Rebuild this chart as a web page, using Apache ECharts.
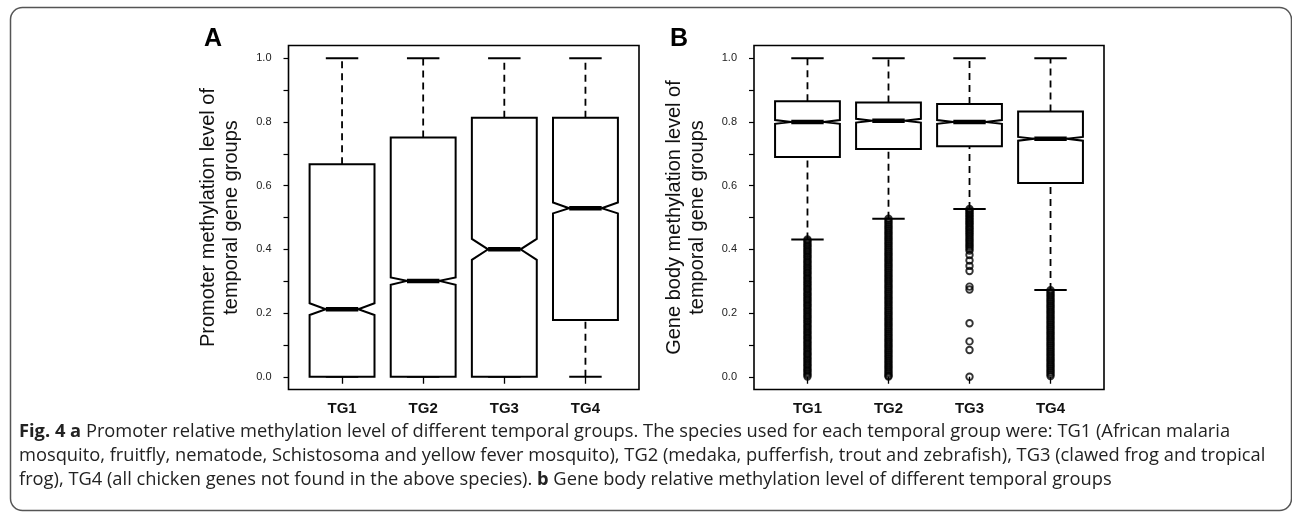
<!DOCTYPE html>
<html><head><meta charset="utf-8">
<script src="https://cdn.jsdelivr.net/npm/echarts@6/dist/echarts.min.js"></script>
<style>html,body{margin:0;padding:0;background:#fff}#c{width:1292px;height:516px}</style>
</head><body><div id="c"></div>
<script>
const categories = ['TG1', 'TG2', 'TG3', 'TG4'];
const yTickValues = [0, 0.1, 0.2, 0.3, 0.4, 0.5, 0.6, 0.7, 0.8, 0.9, 1.0];
const yLabelValues = [0, 0.2, 0.4, 0.6, 0.8, 1.0];

// Panel A: promoter methylation (notched boxplot stats)
const promoterWhiskerLow  = [0, 0, 0, 0];
const promoterQ1          = [0, 0, 0, 0.178];
const promoterNotchLow    = [0.194, 0.289, 0.367, 0.513];
const promoterMedian      = [0.212, 0.301, 0.400, 0.529];
const promoterNotchHigh   = [0.231, 0.312, 0.433, 0.547];
const promoterQ3          = [0.667, 0.751, 0.813, 0.813];
const promoterWhiskerHigh = [1.0, 1.0, 1.0, 1.0];

// Panel B: gene body methylation
const bodyWhiskerLow  = [0.431, 0.496, 0.527, 0.272];
const bodyQ1          = [0.690, 0.715, 0.724, 0.608];
const bodyNotchLow    = [0.794, 0.798, 0.794, 0.741];
const bodyMedian      = [0.800, 0.804, 0.800, 0.747];
const bodyNotchHigh   = [0.806, 0.810, 0.806, 0.753];
const bodyQ3          = [0.865, 0.861, 0.856, 0.833];
const bodyWhiskerHigh = [1.0, 1.0, 1.0, 1.0];

// Panel B outliers
const bodyOutliersTG1 = [0.431,0.426,0.420,0.414,0.409,0.403,0.397,0.392,0.386,0.380,0.375,0.369,0.363,0.358,0.352,0.346,0.341,0.335,0.329,0.324,0.318,0.312,0.307,0.301,0.295,0.290,0.284,0.278,0.273,0.267,0.261,0.256,0.250,0.244,0.239,0.233,0.227,0.222,0.216,0.210,0.205,0.199,0.193,0.188,0.182,0.176,0.171,0.165,0.159,0.154,0.148,0.142,0.137,0.131,0.125,0.120,0.114,0.108,0.103,0.097,0.091,0.086,0.080,0.074,0.069,0.063,0.057,0.052,0.046,0.040,0.035,0.029,0.023,0.018,0.012,0.006,0.001];
const bodyOutliersTG2 = [0.496,0.490,0.484,0.478,0.472,0.466,0.460,0.454,0.448,0.442,0.436,0.430,0.424,0.418,0.412,0.406,0.400,0.394,0.388,0.382,0.376,0.370,0.364,0.358,0.352,0.346,0.340,0.334,0.328,0.322,0.316,0.310,0.304,0.298,0.292,0.286,0.280,0.274,0.268,0.262,0.256,0.250,0.244,0.238,0.232,0.226,0.220,0.214,0.208,0.202,0.196,0.190,0.184,0.178,0.172,0.166,0.160,0.154,0.148,0.142,0.136,0.130,0.124,0.118,0.112,0.106,0.100,0.094,0.088,0.082,0.076,0.070,0.064,0.058,0.052,0.046,0.040,0.034,0.028,0.022,0.016,0.010,0.004,0.001];
const bodyOutliersTG3 = [0.527,0.522,0.517,0.512,0.507,0.502,0.497,0.492,0.487,0.482,0.477,0.471,0.466,0.461,0.455,0.450,0.444,0.438,0.432,0.426,0.420,0.414,0.408,0.402,0.396,0.382,0.365,0.348,0.332,0.283,0.274,0.168,0.111,0.084,0.000];
const bodyOutliersTG4 = [0.272,0.266,0.260,0.254,0.248,0.242,0.236,0.230,0.224,0.218,0.212,0.206,0.200,0.194,0.188,0.182,0.176,0.170,0.164,0.158,0.152,0.146,0.140,0.134,0.128,0.122,0.116,0.110,0.104,0.098,0.092,0.086,0.080,0.074,0.068,0.062,0.056,0.050,0.044,0.038,0.032,0.026,0.020,0.014,0.008,0.002];

const yTitleA = 'Promoter methylation level of\ntemporal gene groups';
const yTitleB = 'Gene body methylation level of\ntemporal gene groups';
const captionLines = [
  '{b|Fig. 4 a} Promoter relative methylation level of different temporal groups. The species used for each temporal group were: TG1 (African malaria',
  'mosquito, fruitfly, nematode, Schistosoma and yellow fever mosquito), TG2 (medaka, pufferfish, trout and zebrafish), TG3 (clawed frog and tropical',
  'frog), TG4 (all chicken genes not found in the above species). {b|b} Gene body relative methylation level of different temporal groups'
];

function boxRows(lo, q1, nl, md, nh, q3, hi) {
  return categories.map((c, i) => [i + 1, lo[i], q1[i], nl[i], md[i], nh[i], q3[i], hi[i]]);
}

function renderBox(params, api) {
  const x = api.value(0);
  const lo = api.value(1), q1 = api.value(2), nl = api.value(3), md = api.value(4),
        nh = api.value(5), q3 = api.value(6), hi = api.value(7);
  const P = (dx, y) => api.coord([x + dx, y]);
  const dashed = { stroke: '#000', lineWidth: 1.8, lineDash: [7, 5], fill: null };
  const solid = { stroke: '#000', lineWidth: 2, fill: null };
  const seg = (a, b, style) => ({ type: 'line', shape: { x1: a[0], y1: a[1], x2: b[0], y2: b[1] }, style: style });
  const ch = [];
  if (hi > q3) ch.push(seg(P(0, q3), P(0, hi), dashed));
  if (q1 > lo) ch.push(seg(P(0, lo), P(0, q1), dashed));
  ch.push(seg(P(-0.2, hi), P(0.2, hi), solid));
  ch.push(seg(P(-0.2, lo), P(0.2, lo), solid));
  const pts = [P(-0.4, q1), P(-0.4, nl), P(-0.2, md), P(-0.4, nh), P(-0.4, q3),
               P(0.4, q3), P(0.4, nh), P(0.2, md), P(0.4, nl), P(0.4, q1)];
  ch.push({ type: 'polygon', shape: { points: pts }, style: { fill: '#fff', stroke: '#000', lineWidth: 2, lineJoin: 'miter' } });
  ch.push(seg(P(-0.2, md), P(0.2, md), { stroke: '#000', lineWidth: 4.5 }));
  return { type: 'group', children: ch };
}

function makeXAxis(gi) {
  return {
    type: 'value', gridIndex: gi, min: 0.34, max: 4.66,
    axisLine: { show: false }, splitLine: { show: false },
    axisTick: { show: true, customValues: [1, 2, 3, 4], length: 7, lineStyle: { color: '#000', width: 1.3 } },
    axisLabel: { customValues: [1, 2, 3, 4], formatter: v => categories[Math.round(v) - 1],
      fontFamily: 'Liberation Sans, Arial, sans-serif', fontWeight: 'bold', fontSize: 15, color: '#111', margin: 12 }
  };
}
function makeYAxis(gi, name, gap) {
  return {
    type: 'value', gridIndex: gi, min: -0.04, max: 1.04,
    axisLine: { show: false }, splitLine: { show: false },
    axisTick: { show: true, customValues: yTickValues, length: 5, lineStyle: { color: '#000', width: 1.2 } },
    axisLabel: { customValues: yLabelValues, formatter: v => v.toFixed(1),
      fontFamily: 'Liberation Sans, Arial, sans-serif', fontSize: 11, color: '#222', margin: 17 },
    name: name, nameLocation: 'middle', nameRotate: 90, nameGap: gap,
    nameTextStyle: { fontFamily: 'Liberation Sans, Arial, sans-serif', fontSize: 20, lineHeight: 23, color: '#111', align: 'center' }
  };
}

const outlierStyle = { color: 'rgba(255,255,255,0)', borderColor: '#000', borderWidth: 1.9 };

const chart = echarts.init(document.getElementById('c'), null, { renderer: 'canvas' });
chart.setOption({
  animation: false,
  backgroundColor: '#fff',
  grid: [
    { left: 288.5, top: 45.5, width: 350.5, height: 344, show: true, borderColor: '#000', borderWidth: 1.6, backgroundColor: 'transparent' },
    { left: 754, top: 45.5, width: 350, height: 344, show: true, borderColor: '#000', borderWidth: 1.6, backgroundColor: 'transparent' }
  ],
  xAxis: [makeXAxis(0), makeXAxis(1)],
  yAxis: [makeYAxis(0, yTitleA, 46), makeYAxis(1, yTitleB, 45)],
  series: [
    { type: 'custom', xAxisIndex: 0, yAxisIndex: 0, renderItem: renderBox, clip: false,
      encode: { x: 0, y: [1, 2, 3, 4, 5, 6, 7] },
      data: boxRows(promoterWhiskerLow, promoterQ1, promoterNotchLow, promoterMedian, promoterNotchHigh, promoterQ3, promoterWhiskerHigh) },
    { type: 'custom', xAxisIndex: 1, yAxisIndex: 1, renderItem: renderBox, clip: false,
      encode: { x: 0, y: [1, 2, 3, 4, 5, 6, 7] },
      data: boxRows(bodyWhiskerLow, bodyQ1, bodyNotchLow, bodyMedian, bodyNotchHigh, bodyQ3, bodyWhiskerHigh) },
    { type: 'scatter', xAxisIndex: 1, yAxisIndex: 1, symbol: 'circle', symbolSize: 6.5, itemStyle: outlierStyle, z: 5,
      data: [].concat(
        bodyOutliersTG1.map(v => [1, v]), bodyOutliersTG2.map(v => [2, v]),
        bodyOutliersTG3.map(v => [3, v]), bodyOutliersTG4.map(v => [4, v])) }
  ],
  graphic: [
    { type: 'rect', shape: { x: 10.5, y: 7.5, width: 1281, height: 503, r: 12 }, style: { fill: null, stroke: '#555', lineWidth: 1.5 }, silent: true },
    { type: 'text', left: 204, top: 27, style: { text: 'A', font: 'bold 25px "Liberation Sans", Arial, sans-serif', fill: '#000' } },
    { type: 'text', left: 670, top: 27, style: { text: 'B', font: 'bold 25px "Liberation Sans", Arial, sans-serif', fill: '#000' } },
    { type: 'text', left: 19, top: 420, style: {
        text: captionLines.join('\n'),
        font: '18.3px "Open Sans", sans-serif', fill: '#222', lineHeight: 24,
        rich: { b: { font: 'bold 18.3px "Open Sans", sans-serif', fill: '#222', lineHeight: 24 } } } }
  ]
});
</script></body></html>
